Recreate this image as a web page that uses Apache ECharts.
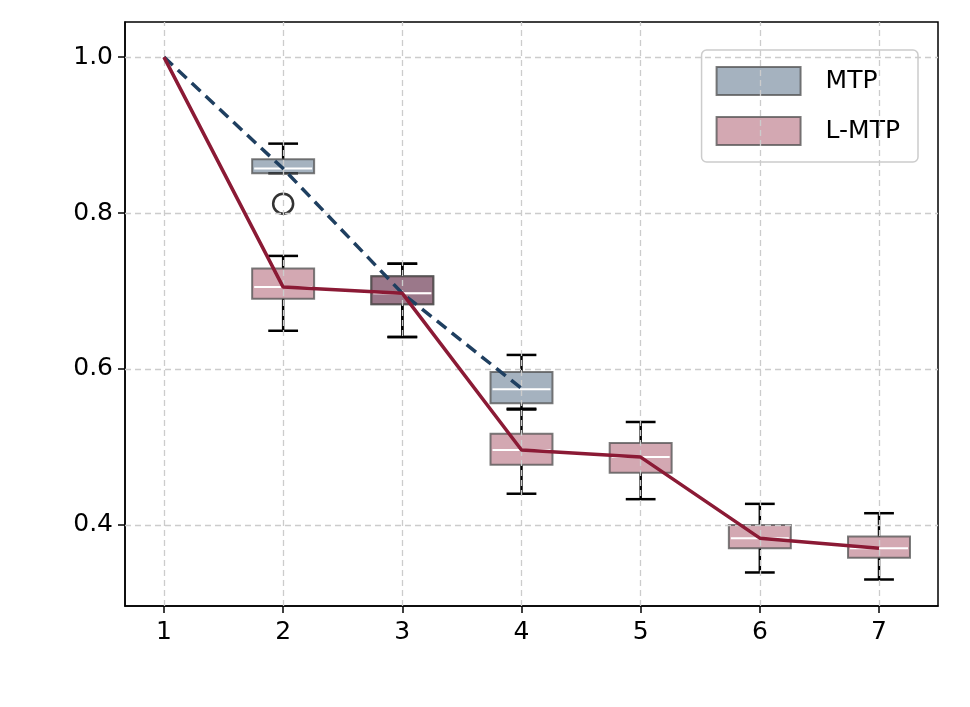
<!DOCTYPE html>
<html><head><meta charset="utf-8">
<script src="https://cdn.jsdelivr.net/npm/echarts@6/dist/echarts.min.js"></script>
<style>html,body{margin:0;padding:0;background:#fff}#c{width:970px;height:707px}</style>
</head><body><div id="c"></div>
<script>
const xTicks=[1,2,3,4,5,6,7];
const yTicks=[0.4,0.6,0.8,1.0];
const mtpPos=[2,3,4];
const mtpQ1=[0.851,0.683,0.556];
const mtpMed=[0.857,0.697,0.574];
const mtpQ3=[0.869,0.719,0.596];
const mtpLo=[0.851,0.641,0.549];
const mtpHi=[0.889,0.735,0.618];
const mtpOutX=[2];
const mtpOutY=[0.812];
const lmtpPos=[2,3,4,5,6,7];
const lmtpQ1=[0.690,0.683,0.477,0.467,0.370,0.358];
const lmtpMed=[0.705,0.697,0.496,0.487,0.383,0.370];
const lmtpQ3=[0.729,0.719,0.517,0.505,0.400,0.385];
const lmtpLo=[0.649,0.641,0.440,0.433,0.339,0.330];
const lmtpHi=[0.745,0.735,0.548,0.532,0.427,0.415];
const mtpLine=[1.0,0.857,0.697,0.575];
const lmtpLine=[1.0,0.705,0.697,0.496,0.487,0.383,0.370];

function boxData(p,lo,q1,m,q3,hi){return p.map((x,i)=>[x,lo[i],q1[i],m[i],q3[i],hi[i]]);}
function boxRender(fill){
  return function(params,api){
    const x=api.value(0);
    const pLo=api.coord([x,api.value(1)]),pQ1=api.coord([x,api.value(2)]),pM=api.coord([x,api.value(3)]),pQ3=api.coord([x,api.value(4)]),pHi=api.coord([x,api.value(5)]);
    const w=api.size([0.52,0])[0], cw=api.size([0.25,0])[0];
    const cx=pM[0];
    const blk={stroke:'#000',lineWidth:2.5};
    return {type:'group',children:[
      {type:'line',shape:{x1:cx,y1:pQ1[1],x2:cx,y2:pLo[1]},style:blk},
      {type:'line',shape:{x1:cx,y1:pQ3[1],x2:cx,y2:pHi[1]},style:blk},
      {type:'line',shape:{x1:cx-cw/2,y1:pLo[1],x2:cx+cw/2,y2:pLo[1]},style:blk},
      {type:'line',shape:{x1:cx-cw/2,y1:pHi[1],x2:cx+cw/2,y2:pHi[1]},style:blk},
      {type:'rect',shape:{x:cx-w/2,y:pQ3[1],width:w,height:pQ1[1]-pQ3[1]},style:{fill:fill,stroke:'rgba(80,80,80,0.75)',lineWidth:2}},
      {type:'line',shape:{x1:cx-w/2+2,y1:pM[1],x2:cx+w/2-2,y2:pM[1]},style:{stroke:'#fff',lineWidth:2}}
    ]};
  };
}
const mtpFill='rgba(31,63,96,0.4)', lmtpFill='rgba(139,26,53,0.38)';
const chart=echarts.init(document.getElementById('c'));
const ax={fontSize:25,color:'#000',fontFamily:'DejaVu Sans'};
const gridLine={type:[6,4],color:'#ccc',width:1.3};
chart.setOption({
  animation:false,
  grid:{left:125,right:32,top:22,bottom:101,show:true,borderColor:'#000',borderWidth:1.5,backgroundColor:'transparent'},
  xAxis:{type:'value',min:0.673,max:7.495,
    axisLabel:{...ax,margin:14,customValues:xTicks,formatter:v=>String(Math.round(v))},
    axisLine:{onZero:false,lineStyle:{color:'#000',width:1.5}},
    axisTick:{show:true,length:7,customValues:xTicks,lineStyle:{color:'#000',width:1.5}},
    splitLine:{show:false}},
  yAxis:{type:'value',min:0.296,max:1.045,
    axisLabel:{...ax,margin:12,customValues:yTicks,formatter:v=>v.toFixed(1)},
    axisTick:{show:true,length:7,lineStyle:{color:'#000',width:1.5},customValues:yTicks},
    axisLine:{show:true,lineStyle:{color:'#000',width:1.5}},
    splitLine:{show:false}},
  legend:{data:['MTP','L-MTP'],right:52,top:50,orient:'vertical',icon:'rect',itemWidth:84,itemHeight:28,itemGap:20,
    textStyle:{fontSize:25,fontFamily:'DejaVu Sans',color:'#000',padding:[0,0,0,20]},
    borderColor:'#ccc',borderWidth:1.5,borderRadius:5,padding:[16,18,16,14],backgroundColor:'rgba(255,255,255,0.85)'},
  series:[
    {type:'line',silent:true,data:[],markLine:{silent:true,symbol:'none',label:{show:false},lineStyle:gridLine,
      data:yTicks.map(v=>({yAxis:v})).concat(xTicks.map(v=>({xAxis:v})))}},
    {name:'MTP',type:'custom',renderItem:boxRender(mtpFill),itemStyle:{color:mtpFill,borderColor:'rgba(80,80,80,0.75)',borderWidth:2},data:boxData(mtpPos,mtpLo,mtpQ1,mtpMed,mtpQ3,mtpHi),encode:{x:0,y:[1,5]},z:3},
    {name:'L-MTP',type:'custom',renderItem:boxRender(lmtpFill),itemStyle:{color:lmtpFill,borderColor:'rgba(80,80,80,0.75)',borderWidth:2},data:boxData(lmtpPos,lmtpLo,lmtpQ1,lmtpMed,lmtpQ3,lmtpHi),encode:{x:0,y:[1,5]},z:3},
    {name:'out',type:'scatter',symbol:'circle',symbolSize:20,itemStyle:{color:'transparent',borderColor:'#000',borderWidth:2.5},data:mtpOutX.map((x,i)=>[x,mtpOutY[i]]),z:4},
    {name:'mtpLine',type:'line',showSymbol:false,data:mtpLine.map((v,i)=>[xTicks[i],v]),lineStyle:{color:'#1f3f60',width:3.5,type:[12,7]},z:5},
    {name:'lmtpLine',type:'line',showSymbol:false,data:lmtpLine.map((v,i)=>[xTicks[i],v]),lineStyle:{color:'#8b1a35',width:3.5},z:5}
  ]
});
</script></body></html>
